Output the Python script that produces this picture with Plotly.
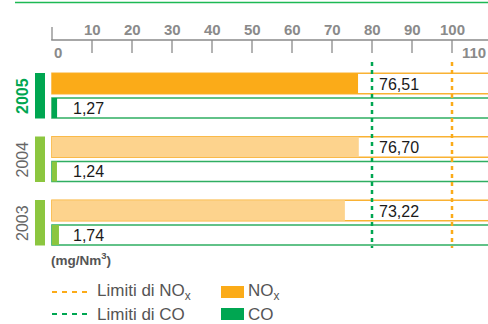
import plotly.graph_objects as go

years = ["2005", "2004", "2003"]
nox = [76.51, 76.70, 73.22]
co = [1.27, 1.24, 1.74]
nox_labels = ["76,51", "76,70", "73,22"]
co_labels = ["1,27", "1,24", "1,74"]
limit_nox = 100
limit_co = 80
tick_vals = [0, 10, 20, 30, 40, 50, 60, 70, 80, 90, 100, 110]

W, H = 488, 324
X0PX, PXU = 52, 4.0  # pixel of 0, px per unit
xr = [(0 - X0PX) / PXU, (W - X0PX) / PXU]

ORANGE = "#fbab18"
ORANGE_L = "#fdd38d"
ORANGE_LINE = "#f9b233"
GREEN = "#00a651"
GREEN_L = "#8cc63f"
GREEN_LINE = "#2fae62"
GRAY = "#8a8a8a"
TXT = "#555555"

row_top = [73 + i * 63.5 for i in range(len(years))]
nox_y = [t + 10.5 for t in row_top]
co_y = [t + 35 for t in row_top]
nox_fill = [ORANGE if i == 0 else ORANGE_L for i in range(len(years))]
co_fill = [GREEN if i == 0 else GREEN_L for i in range(len(years))]

fig = go.Figure()
frame_len = xr[1] + 20
fig.add_trace(go.Bar(y=nox_y, x=[frame_len] * 3, base=0, orientation="h", width=20.5,
                     marker=dict(color="white", line=dict(color=ORANGE_LINE, width=1.6)),
                     hoverinfo="skip", showlegend=False))
fig.add_trace(go.Bar(y=co_y, x=[frame_len] * 3, base=0, orientation="h", width=20,
                     marker=dict(color="white", line=dict(color=GREEN_LINE, width=1.6)),
                     hoverinfo="skip", showlegend=False))
fig.add_trace(go.Bar(y=nox_y, x=nox, base=0, orientation="h", width=20.5,
                     marker=dict(color=nox_fill, line=dict(width=0)), showlegend=False))
fig.add_trace(go.Bar(y=co_y, x=co, base=0, orientation="h", width=20,
                     marker=dict(color=co_fill, line=dict(width=0)), showlegend=False))

shapes = []
ann = []
# top rule
shapes.append(dict(type="line", xref="x", yref="y", x0=(15 - X0PX) / PXU, x1=xr[1], y0=2.5, y1=2.5,
                   line=dict(color="#1db954", width=1.5)))
# axis line
shapes.append(dict(type="line", x0=-0.2, x1=xr[1], y0=40, y1=40, line=dict(color=GRAY, width=1.3)))
for v in tick_vals:
    up = v in (0, 110)
    shapes.append(dict(type="line", x0=v, x1=v, y0=40, y1=27 if up else 53,
                       line=dict(color=GRAY, width=1.3)))
    if v == 0:
        ann.append(dict(x=v, y=52, text=str(v), xanchor="left", yanchor="middle"))
    elif v > xr[1]:
        ann.append(dict(x=xr[1], y=52, text=str(v), xanchor="right", yanchor="middle"))
    else:
        ann.append(dict(x=v, y=29.5, text=str(v), xanchor="center", yanchor="middle"))
for a in ann:
    a.update(showarrow=False, font=dict(family="Liberation Sans Narrow, Liberation Sans", size=15,
                                        color=GRAY, weight="bold"))

# limit lines
shapes.append(dict(type="line", x0=limit_co, x1=limit_co, y0=62, y1=248,
                   line=dict(color=GREEN, width=2.5, dash="4px,4px")))
shapes.append(dict(type="line", x0=limit_nox, x1=limit_nox, y0=62, y1=248,
                   line=dict(color=ORANGE, width=2.5, dash="4px,4px")))

# year markers
for i, yr in enumerate(years):
    t = row_top[i]
    shapes.append(dict(type="rect", x0=(35 - X0PX) / PXU, x1=(45 - X0PX) / PXU, y0=t, y1=t + 45.5,
                       fillcolor=GREEN if i == 0 else GREEN_L, line=dict(width=0)))
    ann.append(dict(x=(22 - X0PX) / PXU, y=t + 23, text=yr, textangle=-90, showarrow=False,
                    xanchor="center", yanchor="middle",
                    font=dict(family="Liberation Sans", size=16,
                              color=GREEN if i == 0 else "#666666",
                              weight="bold" if i == 0 else "normal")))
    ann.append(dict(x=(377 - X0PX) / PXU, y=nox_y[i] + 0.5, text=nox_labels[i], showarrow=False,
                    xanchor="left", yanchor="middle",
                    font=dict(family="Liberation Sans", size=16, color="#1a1a1a")))
    ann.append(dict(x=(71 - X0PX) / PXU, y=co_y[i], text=co_labels[i], showarrow=False,
                    xanchor="left", yanchor="middle",
                    font=dict(family="Liberation Sans", size=16, color="#1a1a1a")))

ann.append(dict(x=(49 - X0PX) / PXU, y=259, text="(mg/Nm<sup>3</sup>)", showarrow=False,
                xanchor="left", yanchor="middle",
                font=dict(family="Liberation Sans", size=13.5, color="#555555", weight="bold")))

# legend
leg = [("Limiti di NO<sub>x</sub>", ORANGE, "NO<sub>x</sub>", ORANGE, 292),
       ("Limiti di CO", GREEN, "CO", GREEN, 314)]
for lbl, lc, lbl2, fc, yy in leg:
    shapes.append(dict(type="line", x0=(52 - X0PX) / PXU, x1=(87 - X0PX) / PXU, y0=yy, y1=yy,
                       line=dict(color=lc, width=2, dash="5px,5px")))
    ann.append(dict(x=(95 - X0PX) / PXU, y=yy, text=lbl, showarrow=False, xanchor="left",
                    yanchor="middle", font=dict(family="Liberation Sans", size=17, color=TXT)))
    shapes.append(dict(type="rect", x0=(221 - X0PX) / PXU, x1=(244 - X0PX) / PXU,
                       y0=yy - 6, y1=yy + 6, fillcolor=fc, line=dict(width=0)))
    ann.append(dict(x=(246 - X0PX) / PXU, y=yy, text=lbl2, showarrow=False, xanchor="left",
                    yanchor="middle", font=dict(family="Liberation Sans", size=17, color=TXT)))

for s in shapes:
    s.setdefault("xref", "x")
    s.setdefault("yref", "y")
    s["layer"] = "above"

fig.update_layout(
    width=W, height=H, margin=dict(l=0, r=0, t=0, b=0),
    paper_bgcolor="white", plot_bgcolor="white", barmode="overlay",
    xaxis=dict(range=xr, visible=False, fixedrange=True),
    yaxis=dict(range=[H, 0], visible=False, fixedrange=True),
    shapes=shapes, annotations=ann, showlegend=False,
)
fig.write_html("out.html")
